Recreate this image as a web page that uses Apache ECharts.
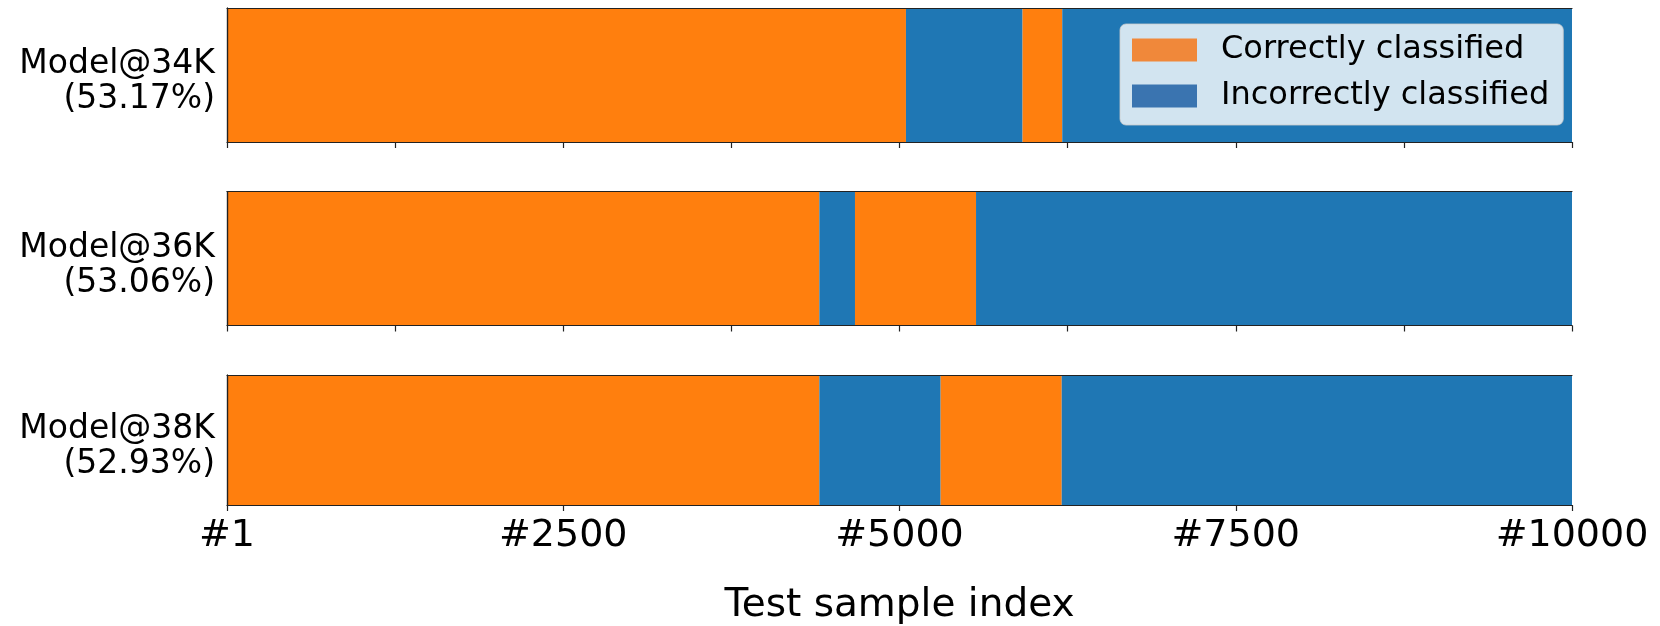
<!DOCTYPE html>
<html>
<head>
<meta charset="utf-8">
<script src="https://cdn.jsdelivr.net/npm/echarts@6/dist/echarts.min.js"></script>
<style>
html,body{margin:0;padding:0;background:#fff;}
#chart{width:1660px;height:626px;}
</style>
</head>
<body>
<div id="chart"></div>
<script>
// ---- data ----
const modelNames = ['Model@34K', 'Model@36K', 'Model@38K'];
const accuracies = ['53.17%', '53.06%', '52.93%'];
// segment boundaries along the test-sample index; segments alternate correct / incorrect, starting with correct
const boundaries34K = [0, 5048, 5915, 6210, 10000];
const boundaries36K = [0, 4404, 4669, 5569, 10000];
const boundaries38K = [0, 4404, 5306, 6206, 10000];
const classNames = ['Correctly classified', 'Incorrectly classified'];
const tickValues = [0, 2500, 5000, 7500, 10000];
const tickLabels = ['#1', '#2500', '#5000', '#7500', '#10000'];
const axisTitle = 'Test sample index';

// ---- styling ----
const FONT = 'DejaVu Sans';
const barColors = ['#ff7f0e', '#1f77b4'];
const legendColors = ['#f0883a', '#3a74b0'];
const spine = '#222';
const allBoundaries = [boundaries34K, boundaries36K, boundaries38K];
const gridTops = [8, 191.5, 375];
const gridH = 134;

const grids = [], xAxes = [], yAxes = [], series = [];
allBoundaries.forEach((b, i) => {
  grids.push({left: 227, right: 88, top: gridTops[i], height: gridH, containLabel: false});
  const last = i === allBoundaries.length - 1;
  xAxes.push({
    gridIndex: i, type: 'value', min: 0, max: 10000, interval: last ? 2500 : 1250,
    z: 10,
    axisLine: {show: true, lineStyle: {color: spine, width: 1.2}},
    axisTick: {show: true, length: 6, lineStyle: {color: spine, width: 1.2}},
    splitLine: {show: false},
    axisLabel: {
      show: last, fontFamily: FONT, fontSize: 38, color: '#000', margin: 12,
      formatter: v => { const k = tickValues.indexOf(v); return k >= 0 ? tickLabels[k] : ''; }
    },
    name: last ? axisTitle : '', nameLocation: 'middle', nameGap: 81,
    nameTextStyle: {fontFamily: FONT, fontSize: 39, color: '#000'}
  });
  xAxes.push({
    gridIndex: i, type: 'value', position: 'top', min: 0, max: 10000, z: 10,
    axisLine: {show: true, lineStyle: {color: spine, width: 1.2}},
    axisTick: {show: false}, axisLabel: {show: false}, splitLine: {show: false}
  });
  const cat = modelNames[i] + '\n(' + accuracies[i] + ')';
  yAxes.push({
    gridIndex: i, type: 'category', data: [cat], z: 10,
    axisLine: {show: true, lineStyle: {color: spine, width: 1.2}},
    axisTick: {show: false}, splitLine: {show: false},
    axisLabel: {
      margin: 12, align: 'right',
      formatter: v => { const p = v.split('\n'); return '{s| }\n{a|' + p[0] + '}\n{a|' + p[1] + '}'; },
      rich: {
        s: {fontSize: 10, lineHeight: 14, fontFamily: FONT},
        a: {fontFamily: FONT, fontSize: 33, color: '#000', lineHeight: 35, align: 'right'}
      }
    }
  });
  yAxes.push({
    gridIndex: i, type: 'category', data: [cat], position: 'right', z: 10,
    axisLine: {show: true, lineStyle: {color: spine, width: 1.2}},
    axisTick: {show: false}, axisLabel: {show: false}, splitLine: {show: false}
  });
  for (let j = 0; j < b.length - 1; j++) {
    series.push({
      type: 'bar', name: classNames[j % 2], stack: 'panel' + i,
      xAxisIndex: 2 * i, yAxisIndex: 2 * i,
      barWidth: '100%', barCategoryGap: '0%',
      itemStyle: {color: barColors[j % 2]},
      silent: true, animation: false,
      data: [b[j + 1] - b[j]]
    });
  }
});

const chart = echarts.init(document.getElementById('chart'), null, {renderer: 'canvas'});
chart.setOption({
  animation: false,
  backgroundColor: '#fff',
  grid: grids,
  xAxis: xAxes,
  yAxis: yAxes,
  legend: {
    left: 1120, top: 24, orient: 'vertical',
    data: classNames.map((n, k) => ({name: n, itemStyle: {color: legendColors[k]}})),
    itemWidth: 65, itemHeight: 23, itemGap: 14, icon: 'rect',
    padding: [10, 14, 13, 12],
    backgroundColor: 'rgba(255,255,255,0.8)',
    borderColor: 'rgba(204,204,204,0.8)', borderWidth: 1, borderRadius: 6,
    selectedMode: false,
    textStyle: {fontFamily: FONT, fontSize: 32, color: '#000', lineHeight: 32, padding: [0, 0, 0, 19]}
  },
  series: series
});
</script>
</body>
</html>
